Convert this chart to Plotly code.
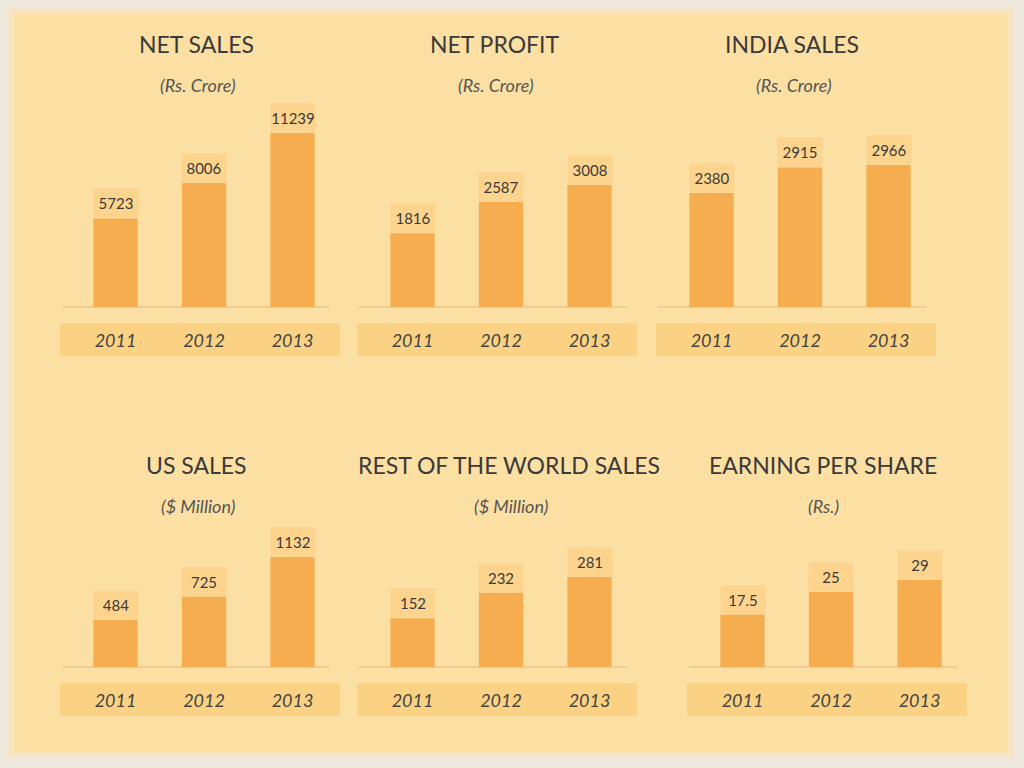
import plotly.graph_objects as go

W, H = 1024, 768

years = ["2011", "2012", "2013"]
net_sales = [5723, 8006, 11239]
net_profit = [1816, 2587, 3008]
india_sales = [2380, 2915, 2966]
us_sales = [484, 725, 1132]
row_sales = [152, 232, 281]
eps = [17.5, 25, 29]

titles = ["NET SALES", "NET PROFIT", "INDIA SALES",
          "US SALES", "REST OF THE WORLD SALES", "EARNING PER SHARE"]
units = ["(Rs. Crore)", "(Rs. Crore)", "(Rs. Crore)",
         "($ Million)", "($ Million)", "(Rs.)"]
series = [net_sales, net_profit, india_sales, us_sales, row_sales, eps]

# panel geometry in pixels (centre of middle bar, baseline, top of tallest bar)
mid_x = [204, 501, 800, 204, 501, 831]
base_y = [307, 307, 307, 667, 667, 667]
top_y = [133, 185, 165, 557, 577, 580]
title_x = [196, 495, 792, 196, 509, 823]
sub_x = [198, 496, 794, 198, 511, 823]
title_y = [44, 44, 44, 465, 465, 465]
sub_y = [85, 85, 85, 506, 506, 506]
STEP = 88.5

BAR = "#F5AD4F"
LABEL_BG = "#FCD48D"
BAND = "#FBD283"
TEXT = "#3a3a3a"


def px(x):
    return x / W


def py(y):
    return 1 - y / H


fig = go.Figure()
shapes = []
annotations = []

# outer glow + inner sheet
shapes.append(dict(type="rect", xref="paper", yref="paper", layer="below",
                   x0=px(8), x1=px(1014), y0=py(758), y1=py(8),
                   fillcolor="#F6E4C2", line_width=0))
shapes.append(dict(type="rect", xref="paper", yref="paper", layer="below",
                   x0=px(14), x1=px(1008), y0=py(752), y1=py(14),
                   fillcolor="#FCDFA3", line_width=0))

for i, vals in enumerate(series):
    n = "" if i == 0 else str(i + 1)
    m, b, t = mid_x[i], base_y[i], top_y[i]

    fig.add_trace(go.Bar(x=years, y=vals, xaxis="x" + n, yaxis="y" + n,
                         marker_color=BAR, marker_line_width=0, width=0.5,
                         hoverinfo="skip", showlegend=False))

    fig.update_layout(**{
        "xaxis" + n: dict(domain=[px(m - 1.5 * STEP), px(m + 1.5 * STEP)],
                          anchor="y" + n, type="category", range=[-0.5, 2.5],
                          showgrid=False, zeroline=False, showline=False, ticks="",
                          ticklabelstandoff=21,
                          tickfont=dict(family="Lato", size=18, style="italic", color="#444")),
        "yaxis" + n: dict(domain=[py(b), py(t)], anchor="x" + n,
                          range=[0, max(vals)], visible=False),
    })

    # year band and baseline
    shapes.append(dict(type="rect", xref="paper", yref="paper", layer="below",
                       x0=px(m - 144), x1=px(m + 136), y0=py(b + 49), y1=py(b + 16),
                       fillcolor=BAND, line_width=0))
    shapes.append(dict(type="line", xref="paper", yref="paper", layer="below",
                       x0=px(m - 142), x1=px(m + 126), y0=py(b), y1=py(b),
                       line=dict(color="#F1CB90", width=2)))

    # value boxes on top of bars (category index for x)
    for j, v in enumerate(vals):
        annotations.append(dict(xref="x" + n, yref="y" + n, x=j, y=v,
                                xanchor="center", yanchor="bottom", showarrow=False,
                                text=f"{v:g}", width=44, height=28, borderpad=0,
                                bgcolor=LABEL_BG,
                                font=dict(family="Lato", size=15, color=TEXT)))

    annotations.append(dict(xref="paper", yref="paper", x=px(title_x[i]), y=py(title_y[i]),
                            xanchor="center", yanchor="middle",
                            text=titles[i], showarrow=False,
                            font=dict(family="Lato", size=23, color=TEXT)))
    annotations.append(dict(xref="paper", yref="paper", x=px(sub_x[i]), y=py(sub_y[i]),
                            xanchor="center", yanchor="middle",
                            text=units[i], showarrow=False,
                            font=dict(family="Lato", size=18, style="italic", color="#555")))

fig.update_layout(width=W, height=H, margin=dict(l=0, r=0, t=0, b=0),
                  paper_bgcolor="#EEE8DF", plot_bgcolor="rgba(0,0,0,0)",
                  bargap=0.5, shapes=shapes, annotations=annotations)

fig.write_html("out.html", config={"displayModeBar": False},
               post_script="document.body.style.margin='0';document.body.style.overflow='hidden';")
